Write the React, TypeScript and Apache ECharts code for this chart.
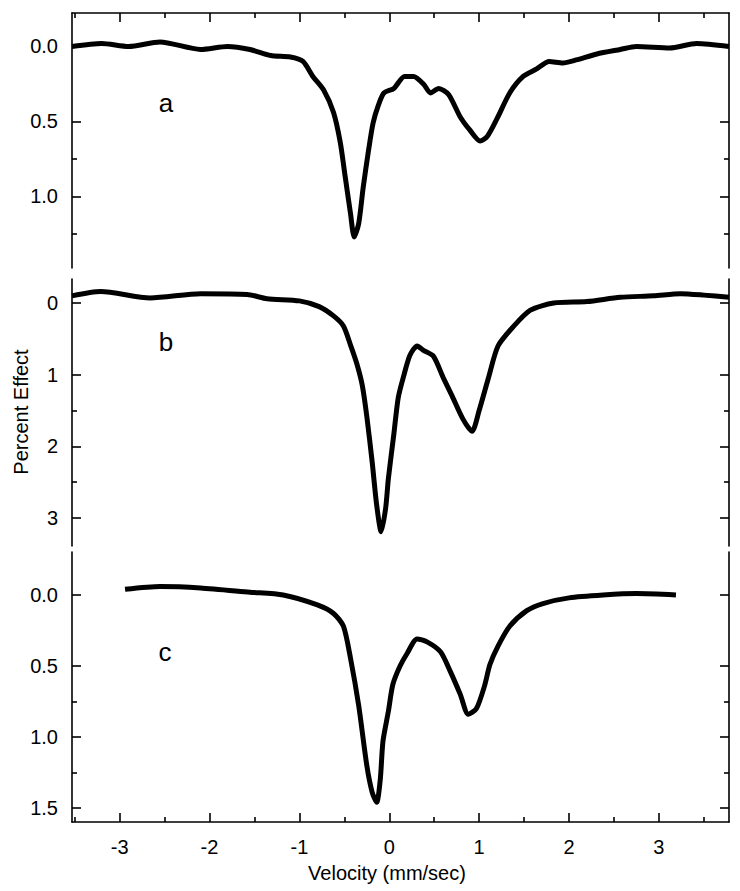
import React, { useEffect, useRef } from "react";
import * as echarts from "echarts";

// Panel a
const velocityA = [-3.53, -3.2, -2.9, -2.55, -2.1, -1.8, -1.55, -1.32, -1.1, -0.96, -0.85, -0.73, -0.62, -0.545, -0.49, -0.43, -0.39, -0.34, -0.29, -0.23, -0.18, -0.12, -0.06, 0.05, 0.17, 0.27, 0.38, 0.46, 0.55, 0.66, 0.79, 0.9, 1.01, 1.09, 1.2, 1.34, 1.49, 1.64, 1.78, 1.93, 2.08, 2.31, 2.57, 2.75, 3.12, 3.42, 3.78];
const effectA = [0.0, -0.02, 0.0, -0.03, 0.02, 0.0, 0.02, 0.06, 0.07, 0.1, 0.2, 0.29, 0.44, 0.64, 0.87, 1.12, 1.27, 1.18, 0.94, 0.69, 0.51, 0.39, 0.31, 0.28, 0.2, 0.2, 0.25, 0.31, 0.28, 0.32, 0.47, 0.56, 0.63, 0.6, 0.48, 0.31, 0.2, 0.15, 0.1, 0.11, 0.09, 0.05, 0.02, 0.0, 0.01, -0.02, 0.0];

// Panel b
const velocityB = [-3.53, -3.21, -2.66, -2.1, -1.58, -1.36, -1.0, -0.78, -0.62, -0.51, -0.43, -0.36, -0.3, -0.25, -0.19, -0.14, -0.09, -0.04, -0.01, 0.05, 0.1, 0.16, 0.23, 0.31, 0.38, 0.49, 0.6, 0.7, 0.82, 0.92, 1.0, 1.1, 1.21, 1.38, 1.57, 1.83, 2.2, 2.57, 2.94, 3.24, 3.5, 3.78];
const effectB = [-0.1, -0.16, -0.07, -0.13, -0.12, -0.06, -0.03, 0.05, 0.18, 0.32, 0.59, 0.85, 1.15, 1.58, 2.22, 2.82, 3.19, 2.86, 2.45, 1.84, 1.32, 1.02, 0.73, 0.6, 0.66, 0.74, 1.04, 1.3, 1.62, 1.79, 1.5, 1.06, 0.6, 0.33, 0.1, 0.0, -0.02, -0.08, -0.1, -0.13, -0.11, -0.08];

// Panel c
const velocityC = [-2.94, -2.55, -2.1, -1.55, -1.18, -0.8, -0.62, -0.51, -0.43, -0.34, -0.25, -0.19, -0.14, -0.1, -0.07, -0.01, 0.04, 0.12, 0.2, 0.31, 0.42, 0.57, 0.68, 0.79, 0.88, 0.97, 1.06, 1.12, 1.21, 1.34, 1.53, 1.71, 2.0, 2.38, 2.75, 3.19];
const effectC = [-0.04, -0.06, -0.05, -0.02, 0.0, 0.07, 0.13, 0.22, 0.45, 0.78, 1.2, 1.39, 1.46, 1.3, 1.03, 0.82, 0.63, 0.5, 0.41, 0.31, 0.33, 0.4, 0.54, 0.7, 0.84, 0.8, 0.64, 0.49, 0.36, 0.22, 0.11, 0.06, 0.02, 0.0, -0.01, 0.0];

// Ticks
const xMajorTicks = [-3, -2, -1, 0, 1, 2, 3];
const xMinorTicks = [-3.5, -2.5, -1.5, -0.5, 0.5, 1.5, 2.5, 3.5];
const yMajorA = [0, 0.5, 1.0];
const yMinorA = [0.75, 1.25];
const yMajorB = [0, 1, 2, 3];
const yMinorB = [1.5, 2.5];
const yMajorC = [0, 0.5, 1.0, 1.5];
const yMinorC = [0.75, 1.25];

const panelLabels = ["a", "b", "c"];
const xTitle = "Velocity (mm/sec)";
const yTitle = "Percent Effect";

const X_MIN = -3.53;
const X_MAX = 3.78;
const FONT = "'Liberation Sans', Arial, sans-serif";
const INK = "#000";

export default function App() {
  const ref = useRef<HTMLDivElement | null>(null);

  useEffect(() => {
    if (!ref.current) return;
    const chart = echarts.init(ref.current, null, { renderer: "svg" });

    const grids = [
      { left: 72, right: 11, top: 13, height: 255 },
      { left: 72, right: 11, top: 279, height: 267 },
      { left: 72, right: 11, top: 552, height: 270 },
    ];
    const yRanges = [
      [-0.223, 1.477],
      [-0.335, 3.39],
      [-0.303, 1.599],
    ];
    const yMajors = [yMajorA, yMajorB, yMajorC];
    const yMinors = [yMinorA, yMinorB, yMinorC];
    const fmt = [
      (v: number) => v.toFixed(1),
      (v: number) => String(Math.round(v)),
      (v: number) => v.toFixed(1),
    ];

    const axisLine = { show: true, onZero: false, lineStyle: { color: INK, width: 1.6 } };
    const noLine = { show: false, onZero: false };

    const xAxes: any[] = [];
    const yAxes: any[] = [];
    const majorXIdx: number[] = [];
    const majorYIdx: number[] = [];

    for (let g = 0; g < 3; g++) {
      const showX = g !== 1;
      const pos = g === 0 ? "top" : "bottom";
      majorXIdx.push(xAxes.length);
      xAxes.push({
        type: "value",
        gridIndex: g,
        position: pos,
        min: X_MIN,
        max: X_MAX,
        axisLine: showX ? axisLine : noLine,
        axisTick: {
          show: showX,
          inside: true,
          length: 9,
          customValues: xMajorTicks,
          lineStyle: { color: INK, width: 1.6 },
        },
        axisLabel: {
          show: g === 2,
          customValues: xMajorTicks,
          margin: 15,
          color: INK,
          fontSize: 20,
          fontFamily: FONT,
          formatter: (v: number) => String(v),
        },
        splitLine: { show: false },
      });
      xAxes.push({
        type: "value",
        gridIndex: g,
        position: pos,
        min: X_MIN,
        max: X_MAX,
        axisLine: noLine,
        axisTick: {
          show: showX,
          inside: true,
          length: 5,
          customValues: xMinorTicks,
          lineStyle: { color: INK, width: 1.6 },
        },
        axisLabel: { show: false },
        splitLine: { show: false },
      });

      for (const side of ["left", "right"]) {
        if (side === "left") majorYIdx.push(yAxes.length);
        yAxes.push({
          type: "value",
          gridIndex: g,
          position: side,
          inverse: true,
          min: yRanges[g][0],
          max: yRanges[g][1],
          axisLine: axisLine,
          axisTick: {
            show: true,
            inside: true,
            length: 9,
            customValues: yMajors[g],
            lineStyle: { color: INK, width: 1.6 },
          },
          axisLabel: {
            show: side === "left",
            customValues: yMajors[g],
            margin: 14,
            color: INK,
            fontSize: 20,
            fontFamily: FONT,
            formatter: fmt[g],
          },
          splitLine: { show: false },
        });
        yAxes.push({
          type: "value",
          gridIndex: g,
          position: side,
          inverse: true,
          min: yRanges[g][0],
          max: yRanges[g][1],
          axisLine: noLine,
          axisTick: {
            show: true,
            inside: true,
            length: 5,
            customValues: yMinors[g],
            lineStyle: { color: INK, width: 1.6 },
          },
          axisLabel: { show: false },
          splitLine: { show: false },
        });
      }
    }

    const sets = [
      [velocityA, effectA],
      [velocityB, effectB],
      [velocityC, effectC],
    ];

    const series = sets.map(([vx, vy], g) => ({
      type: "line",
      xAxisIndex: majorXIdx[g],
      yAxisIndex: majorYIdx[g],
      data: vx.map((v, i) => [v, vy[i]]),
      showSymbol: false,
      smooth: 0.25,
      clip: true,
      lineStyle: { color: INK, width: 5 },
    }));

    const labelPos = [
      [166, 103],
      [166, 342],
      [165, 652],
    ];

    chart.setOption({
      animation: false,
      backgroundColor: "#fff",
      grid: grids,
      xAxis: xAxes,
      yAxis: yAxes,
      series,
      graphic: [
        ...panelLabels.map((t, i) => ({
          type: "text",
          x: labelPos[i][0],
          y: labelPos[i][1],
          style: {
            text: t,
            fill: INK,
            font: `26px ${FONT}`,
            textAlign: "center",
            textVerticalAlign: "middle",
          },
        })),
        {
          type: "text",
          x: 387,
          y: 873,
          style: {
            text: xTitle,
            fill: INK,
            font: `20px ${FONT}`,
            textAlign: "center",
            textVerticalAlign: "middle",
          },
        },
        {
          type: "text",
          x: 21,
          y: 412,
          rotation: Math.PI / 2,
          style: {
            text: yTitle,
            fill: INK,
            font: `20px ${FONT}`,
            textAlign: "center",
            textVerticalAlign: "middle",
          },
        },
      ],
    });

    return () => chart.dispose();
  }, []);

  return (
    <div
      ref={ref}
      style={{ position: "absolute", left: 0, top: 0, width: 740, height: 891, background: "#fff" }}
    />
  );
}
